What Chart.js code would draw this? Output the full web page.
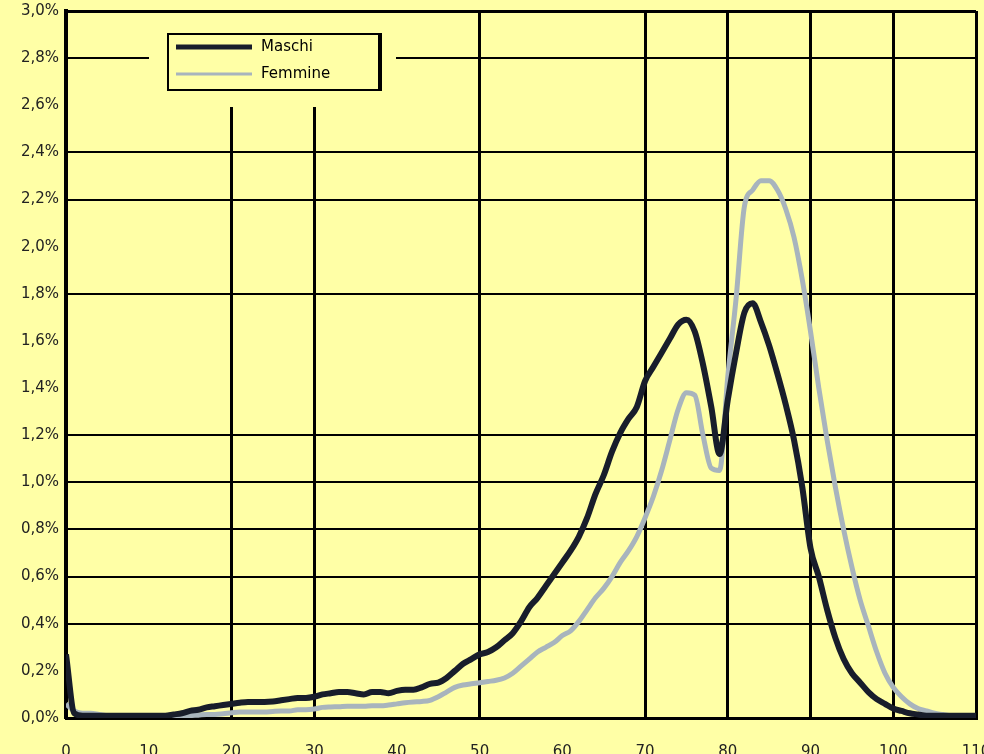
<!DOCTYPE html>
<html>
<head>
<meta charset="utf-8">
<script src="https://cdn.jsdelivr.net/npm/chart.js@4.4.1/dist/chart.umd.min.js"></script>
<style>
  html, body { margin: 0; padding: 0; background: #ffffa6; overflow: hidden; }
  #wrap { width: 984px; height: 754px; overflow: hidden; }
  canvas { display: block; }
</style>
</head>
<body>
<div id="wrap"><canvas id="chart" width="984" height="775"></canvas></div>
<script>
// eta' (anni)
const AGES = [
  0, 1, 2, 3, 4, 5, 6, 7, 8, 9,
  10, 11, 12, 13, 14, 15, 16, 17, 18, 19,
  20, 21, 22, 23, 24, 25, 26, 27, 28, 29,
  30, 31, 32, 33, 34, 35, 36, 37, 38, 39,
  40, 41, 42, 43, 44, 45, 46, 47, 48, 49,
  50, 51, 52, 53, 54, 55, 56, 57, 58, 59,
  60, 61, 62, 63, 64, 65, 66, 67, 68, 69,
  70, 71, 72, 73, 74, 75, 76, 77, 78, 79,
  80, 81, 82, 83, 84, 85, 86, 87, 88, 89,
  90, 91, 92, 93, 94, 95, 96, 97, 98, 99,
  100, 101, 102, 103, 104, 105, 106, 107, 108, 109, 110,
]

// % di decessi per eta', maschi
const MALE = [
  0.27, 0.02, 0.01, 0.01, 0.01, 0.01, 0.01, 0.01, 0.01, 0.01,
  0.01, 0.01, 0.01, 0.015, 0.02, 0.03, 0.035, 0.045, 0.05, 0.055,
  0.06, 0.065, 0.068, 0.068, 0.068, 0.07, 0.075, 0.08, 0.085, 0.085,
  0.09, 0.1, 0.105, 0.11, 0.11, 0.105, 0.1, 0.11, 0.11, 0.105,
  0.115, 0.12, 0.12, 0.13, 0.145, 0.15, 0.17, 0.2, 0.23, 0.25,
  0.27, 0.28, 0.3, 0.33, 0.36, 0.41, 0.47, 0.51, 0.56, 0.61,
  0.66, 0.71, 0.77, 0.85, 0.95, 1.03, 1.13, 1.21, 1.27, 1.32,
  1.43, 1.49, 1.55, 1.61, 1.67, 1.69, 1.64, 1.5, 1.32, 1.12,
  1.35, 1.55, 1.72, 1.76, 1.68, 1.58, 1.46, 1.33, 1.18, 0.98,
  0.72, 0.6, 0.46, 0.34, 0.25, 0.19, 0.15, 0.11, 0.08, 0.06,
  0.04, 0.03, 0.02, 0.015, 0.01, 0.01, 0.01, 0.01, 0.01, 0.01, 0.01,
]

// % di decessi per eta', femmine
const FEMALE = [
  0.06, 0.03, 0.02, 0.02, 0.015, 0.01, 0.005, 0.005, 0.005, 0.005,
  0.005, 0.005, 0.005, 0.005, 0.005, 0.01, 0.012, 0.015, 0.015, 0.018,
  0.022, 0.025, 0.025, 0.025, 0.025, 0.028, 0.03, 0.03, 0.035, 0.035,
  0.038, 0.045, 0.047, 0.048, 0.05, 0.05, 0.05, 0.052, 0.052, 0.055,
  0.06, 0.065, 0.068, 0.07, 0.075, 0.09, 0.11, 0.13, 0.14, 0.145,
  0.15, 0.155, 0.16, 0.17, 0.19, 0.22, 0.25, 0.28, 0.3, 0.32,
  0.35, 0.37, 0.41, 0.46, 0.51, 0.55, 0.6, 0.66, 0.71, 0.77,
  0.85, 0.94, 1.05, 1.18, 1.31, 1.38, 1.37, 1.2, 1.06, 1.05,
  1.45, 1.78, 2.17, 2.24, 2.28, 2.28, 2.24, 2.16, 2.04, 1.86,
  1.64, 1.4, 1.18, 0.98, 0.8, 0.64, 0.5, 0.39, 0.28, 0.19,
  0.13, 0.09, 0.06, 0.04, 0.03, 0.02, 0.015, 0.01, 0.01, 0.005, 0.005,
]

const SERIES_NAMES = ['Maschi', 'Femmine']
const SERIES_COLORS = ['#181d2b', '#a8b4bd']

// righe della griglia visibili nell'originale
const X_GRID_AT = [20, 30, 50, 70, 80, 90, 100, 110]
const Y_GRID_AT = [4, 6, 8, 10, 12, 18, 22, 24, 28, 30] // decimi di %

const BG = '#ffffa6'
const FONT = { family: 'DejaVu Sans', size: 15 }

const toPoints = (values) => AGES.map((age, i) => ({ x: age, y: values[i] }))

// legenda disegnata a mano, come nel grafico originale
const boxLegend = {
  id: 'boxLegend',
  beforeDatasetsDraw(chart) {
    const ctx = chart.ctx
    ctx.save()
    ctx.fillStyle = BG
    ctx.fillRect(149, 13, 247, 94)

    ctx.strokeStyle = '#000'
    ctx.lineWidth = 2
    ctx.strokeRect(168, 34, 211, 56)
    ctx.lineWidth = 3
    ctx.beginPath()
    ctx.moveTo(380.5, 33)
    ctx.lineTo(380.5, 91)
    ctx.stroke()

    const rows = [47, 74]
    const widths = [5, 3]
    ctx.font = FONT.size + 'px ' + FONT.family
    ctx.textBaseline = 'middle'
    ctx.textAlign = 'left'
    rows.forEach((y, i) => {
      ctx.strokeStyle = SERIES_COLORS[i]
      ctx.lineWidth = widths[i]
      ctx.beginPath()
      ctx.moveTo(176, y)
      ctx.lineTo(252, y)
      ctx.stroke()
      ctx.fillStyle = '#000'
      ctx.fillText(SERIES_NAMES[i], 261, y)
    })
    ctx.restore()
  },
}

const ctx = document.getElementById('chart').getContext('2d')
new Chart(ctx, {
  type: 'line',
  plugins: [boxLegend],
  data: {
    datasets: [
      {
        label: SERIES_NAMES[0],
        data: toPoints(MALE),
        borderColor: SERIES_COLORS[0],
        borderWidth: 6,
      },
      {
        label: SERIES_NAMES[1],
        data: toPoints(FEMALE),
        borderColor: SERIES_COLORS[1],
        borderWidth: 5,
      },
    ],
  },
  options: {
    responsive: false,
    animation: false,
    events: [],
    layout: { padding: { top: 11, right: 8, left: 0, bottom: 0 } },
    elements: {
      point: { radius: 0 },
      line: { tension: 0.3, cubicInterpolationMode: 'monotone', fill: false },
    },
    plugins: {
      legend: { display: false },
      tooltip: { enabled: false },
    },
    scales: {
      x: {
        type: 'linear',
        min: 0,
        max: 110,
        afterFit: (scale) => {
          scale.height = 57
          scale.paddingLeft = 0
          scale.paddingRight = 0
        },
        grid: {
          drawTicks: false,
          color: (c) => X_GRID_AT.includes(Math.round(c.tick.value)) ? '#000' : 'rgba(0,0,0,0)',
          lineWidth: 3,
        },
        border: { color: '#000', width: 3 },
        ticks: {
          stepSize: 10,
          padding: 25,
          maxRotation: 0,
          color: '#222',
          font: FONT,
          callback: (v) => String(v),
        },
      },
      y: {
        min: 0,
        max: 3,
        afterFit: (scale) => {
          scale.width = 66
          scale.paddingTop = 0
          scale.paddingBottom = 0
        },
        grid: {
          drawTicks: false,
          color: (c) => Y_GRID_AT.includes(Math.round(c.tick.value * 10)) ? '#000' : 'rgba(0,0,0,0)',
          lineWidth: (c) => Math.round(c.tick.value * 10) === 30 ? 3 : 2,
        },
        border: { color: '#000', width: 4 },
        ticks: {
          stepSize: 0.2,
          padding: 7,
          color: '#222',
          font: FONT,
          callback: (v) => v.toFixed(1).replace('.', ',') + '%',
        },
      },
    },
  },
})
</script>
</body>
</html>
